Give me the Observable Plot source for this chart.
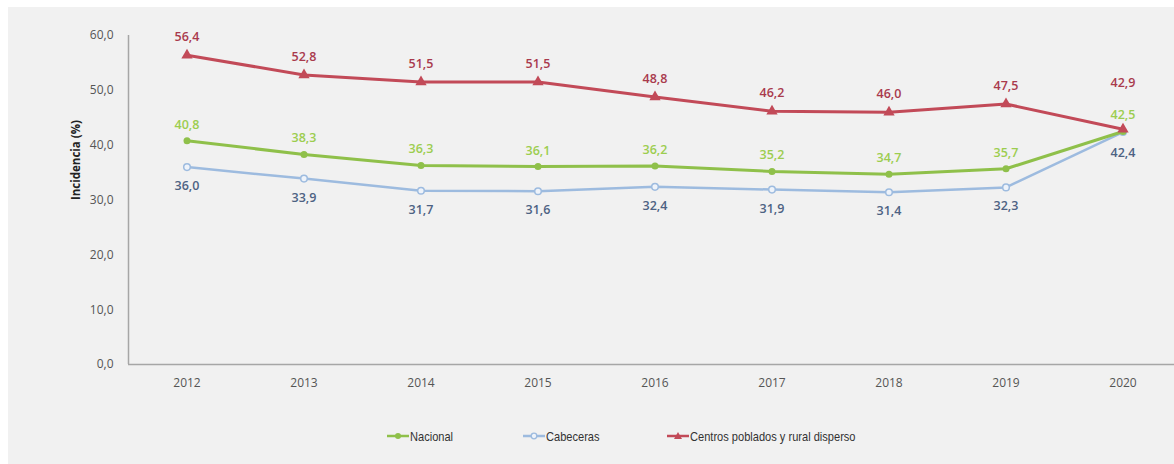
<!DOCTYPE html>
<html>
<head>
<meta charset="utf-8">
<script src="https://cdn.jsdelivr.net/npm/d3@7"></script>
<script src="https://cdn.jsdelivr.net/npm/@observablehq/plot@0.6"></script>
<style>
  html, body { margin: 0; padding: 0; background: #ffffff; }
  #wrap { position: relative; width: 1174px; height: 464px; overflow: hidden; }
  #panel { position: absolute; left: 8px; top: 7px; right: 0; bottom: 0; background: #f1f1f1; }
  #chart { position: absolute; left: 0; top: 0; }
  #legend { position: absolute; left: 0; top: 426px; width: 1174px; height: 20px;
            font-family: "Liberation Sans", "Open Sans", sans-serif; font-size: 13.5px; color: #333; }
  .item { position: absolute; top: 0; display: flex; align-items: center; height: 20px; white-space: nowrap; }
  .item svg { margin-right: 1px; }
  .item span { display: inline-block; transform: scaleX(0.82); transform-origin: left center; }
</style>
</head>
<body>
<div id="wrap">
  <div id="panel"></div>
  <div id="chart"></div>
  <div id="legend"></div>
</div>
<script>
const years = [2012, 2013, 2014, 2015, 2016, 2017, 2018, 2019, 2020];
const nacional = [40.8, 38.3, 36.3, 36.1, 36.2, 35.2, 34.7, 35.7, 42.5];
const cabeceras = [36.0, 33.9, 31.7, 31.6, 32.4, 31.9, 31.4, 32.3, 42.4];
const centros = [56.4, 52.8, 51.5, 51.5, 48.8, 46.2, 46.0, 47.5, 42.9];
const yTicks = [0, 10, 20, 30, 40, 50, 60];
const seriesNames = ["Nacional", "Cabeceras", "Centros poblados y rural disperso"];

const lineColors = {"Nacional": "#8fc04a", "Cabeceras": "#9dbbdf", "Centros poblados y rural disperso": "#c24a58"};
const labelColors = {"Nacional": "#9ccd4f", "Cabeceras": "#4d6283", "Centros poblados y rural disperso": "#a93a4d"};

const fmt = v => v.toFixed(1).replace(".", ",");

const nac = years.map((y, i) => ({year: y, value: nacional[i]}));
const cab = years.map((y, i) => ({year: y, value: cabeceras[i]}));
const cen = years.map((y, i) => ({year: y, value: centros[i]}));
const lastYear = years[years.length - 1];
const notLast = d => d.year !== lastYear;
const isLast = d => d.year === lastYear;

const font = "'Open Sans', 'Noto Sans', sans-serif";
const redC = "Centros poblados y rural disperso";

const chart = Plot.plot({
  width: 1174,
  height: 410,
  marginLeft: 128,
  marginRight: 0,
  marginTop: 35,
  marginBottom: 46,
  style: {background: "transparent", fontFamily: font, fontSize: "12px", color: "#555"},
  x: {type: "linear", domain: [2011.5, 2020.5], range: [128, 1181]},
  y: {domain: [0, 60]},
  marks: [
    Plot.axisY(yTicks, {tickSize: 0, tickPadding: 15, tickFormat: fmt, label: null, fill: "#555", fontSize: 12}),
    Plot.axisX(years, {tickSize: 0, tickPadding: 14, tickFormat: d => String(d), label: null, fill: "#555", fontSize: 12}),
    Plot.ruleX([2011.5], {y1: 0, y2: 60, stroke: "#a6a6a6", strokeWidth: 1.5}),
    Plot.ruleY([0], {x1: 2011.5, x2: 2020.5, stroke: "#a6a6a6", strokeWidth: 1.5}),
    Plot.text(["Incidencia (%)"], {frameAnchor: "left", rotate: -90, dx: -52, fontWeight: "bold", fontSize: 11.5, fill: "#222"}),
    // Cabeceras
    Plot.line(cab, {x: "year", y: "value", stroke: lineColors["Cabeceras"], strokeWidth: 2.5}),
    Plot.dot(cab, {x: "year", y: "value", r: 3.3, fill: "#eef3fa", stroke: lineColors["Cabeceras"], strokeWidth: 1.5}),
    // Nacional
    Plot.line(nac, {x: "year", y: "value", stroke: lineColors["Nacional"], strokeWidth: 3}),
    Plot.dot(nac, {x: "year", y: "value", r: 3.5, fill: lineColors["Nacional"]}),
    // Centros
    Plot.line(cen, {x: "year", y: "value", stroke: lineColors[redC], strokeWidth: 3}),
    Plot.dot(cen, {x: "year", y: "value", r: 4.2, symbol: "triangle", fill: lineColors[redC]}),
    // labels
    Plot.text(cen.filter(notLast), {x: "year", y: "value", text: d => fmt(d.value), dy: -18,
      fill: labelColors[redC], fontWeight: 600, fontSize: 12.5}),
    Plot.text(cen.filter(isLast), {x: "year", y: "value", text: d => fmt(d.value), dy: -46,
      fill: labelColors[redC], fontWeight: 600, fontSize: 12.5}),
    Plot.text(nac, {x: "year", y: "value", text: d => fmt(d.value), dy: -16,
      fill: labelColors["Nacional"], fontWeight: 600, fontSize: 12.5}),
    Plot.text(cab.filter(notLast), {x: "year", y: "value", text: d => fmt(d.value), dy: 19,
      fill: labelColors["Cabeceras"], fontWeight: 600, fontSize: 12.5}),
    Plot.text(cab.filter(isLast), {x: "year", y: "value", text: d => fmt(d.value), dy: 21,
      fill: labelColors["Cabeceras"], fontWeight: 600, fontSize: 12.5})
  ]
});
document.getElementById("chart").appendChild(chart);

// Legend
const legend = document.getElementById("legend");
const legendX = [387, 523, 667];
const symbols = ["circle", "hollow", "triangle"];
seriesNames.forEach((name, i) => {
  const item = document.createElement("div");
  item.className = "item";
  item.style.left = legendX[i] + "px";
  const c = lineColors[name];
  let marker;
  if (symbols[i] === "circle") marker = `<circle cx="11" cy="10" r="3" fill="${c}"/>`;
  else if (symbols[i] === "hollow") marker = `<circle cx="11" cy="10" r="2.8" fill="#eef3fa" stroke="${c}" stroke-width="1.3"/>`;
  else marker = `<path d="M11,6 L15,13 L7,13 Z" fill="${c}"/>`;
  item.innerHTML = `<svg width="22" height="20"><line x1="0" x2="22" y1="10" y2="10" stroke="${c}" stroke-width="2.5"/>${marker}</svg><span>${name}</span>`;
  legend.appendChild(item);
});
</script>
</body>
</html>
